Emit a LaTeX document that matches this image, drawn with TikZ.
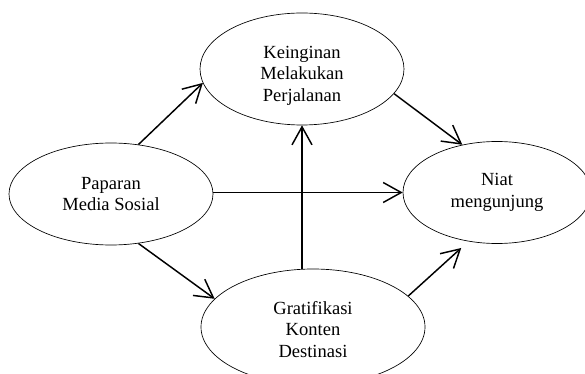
\documentclass[tikz,border=0pt]{standalone}
\usepackage{fontspec}
\setmainfont{Liberation Serif}
\usetikzlibrary{shapes.geometric,arrows.meta}
\newcommand{\liftline}[1]{\rule{0pt}{#1}}

\begin{document}
\begin{tikzpicture}[x=0.75pt,y=-0.75pt,font=\fontsize{13.9}{16.1}\selectfont,
    var/.style={ellipse,draw,line width=0.5pt,inner sep=0pt,align=center},
    link/.style={-{Straight Barb[length=13.5pt,width=15pt]},line width=1.1pt}]
  \useasboundingbox (0,0) rectangle (585,374);
  % constructs
  \node[var,minimum width=153pt,minimum height=84pt] (keinginan) at (302,69) {\liftline{19pt}Keinginan\\Melakukan\\Perjalanan};
  \node[var,minimum width=153pt,minimum height=76.5pt] (paparan) at (111,194) {Paparan\\Media Sosial};
  \node[var,minimum width=141pt,minimum height=76.5pt] (niat) at (497,192.5) {Niat\\mengunjung};
  \node[var,minimum width=168pt,minimum height=87pt] (gratifikasi) at (313,327) {\liftline{13pt}Gratifikasi\\Konten\\Destinasi};
  % paths
  \draw[link] (paparan.61) -- (keinginan.188);
  \draw[link] (paparan.-61) -- (gratifikasi.164);
  \draw[link] (paparan.east |- niat.west) -- (niat.west);
  \draw[link] (gratifikasi.north -| keinginan.south) -- (keinginan.south);
  \draw[link] (keinginan.-15) -- (niat.126);
  \draw[link] (gratifikasi.18) -- ([yshift=-6pt]niat.-127);
\end{tikzpicture}
\end{document}
